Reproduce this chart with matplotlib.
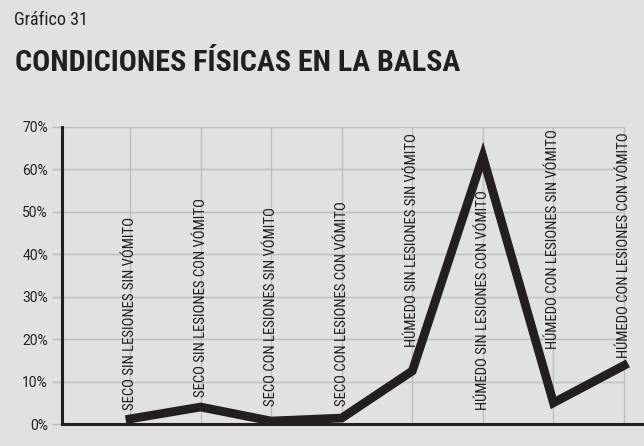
import matplotlib
matplotlib.use("Agg")
import matplotlib.pyplot as plt

plt.rcParams['font.family'] = ['Roboto Condensed', 'DejaVu Sans']

categories = ['SECO SIN LESIONES SIN VÓMITO',
              'SECO SIN LESIONES CON VÓMITO',
              'SECO CON LESIONES SIN VÓMITO',
              'SECO CON LESIONES CON VÓMITO',
              'HÚMEDO SIN LESIONES SIN VÓMITO',
              'HÚMEDO SIN LESIONES CON VÓMITO',
              'HÚMEDO CON LESIONES SIN VÓMITO',
              'HÚMEDO CON LESIONES CON VÓMITO']
values = [1.2, 4.0, 0.7, 1.4, 12.5, 63.0, 5.0, 13.8]
yticks = [0, 10, 20, 30, 40, 50, 60, 70]
ytick_labels = ['0%', '10%', '20%', '30%', '40%', '50%', '60%', '70%']

# where each category label starts (bottom of rotated text), in % units
label_y = [3.3, 6.4, 4.2, 4.2, 18.2, 3.3, 17.7, 15.6]

bg = '#e1e1e1'
ink = '#231f20'
grid = '#bdbdbd'

fig = plt.figure(figsize=(6.44, 4.46), dpi=100, facecolor=bg)
ax = fig.add_axes([62/644, 22/446, 582/644, 297/446])
ax.set_facecolor(bg)

xs = list(range(1, len(values) + 1))
x0, x1 = 0.0364, 8.283
ax.set_xlim(x0, x1)
ax.set_ylim(0, 70)

# grid
ax.hlines(yticks, x0, 8, colors=grid, lw=1, zorder=1)
ax.vlines(xs, 0, 70, colors=grid, lw=1, zorder=1)

ax.plot(xs, values, color=ink, lw=6.3, solid_joinstyle='miter', zorder=3)

for x, lab, ly in zip(xs, categories, label_y):
    ax.text(x, ly, lab, rotation=90, ha='center', va='bottom',
            fontsize=10.6, color=ink, zorder=2)

ax.set_xticks([])
ax.set_yticks(yticks)
ax.set_yticklabels(ytick_labels, fontsize=10, color=ink,
                   family=['Roboto', 'DejaVu Sans'])
ax.tick_params(axis='y', length=7, width=1, color=grid, pad=3)

for s in ['top', 'right']:
    ax.spines[s].set_visible(False)
ax.spines['left'].set_color(ink)
ax.spines['left'].set_linewidth(2.2)
ax.spines['bottom'].set_color(ink)
ax.spines['bottom'].set_linewidth(2.2)

fig.text(14/644, 1 - 20/446, 'Gráfico 31', fontsize=13, color=ink, va='center')
fig.text(15/644, 1 - 63/446, 'CONDICIONES FÍSICAS EN LA BALSA', fontsize=21.6,
         fontweight='bold', color=ink, va='center')

fig.savefig('out.png', dpi=100, facecolor=bg)
